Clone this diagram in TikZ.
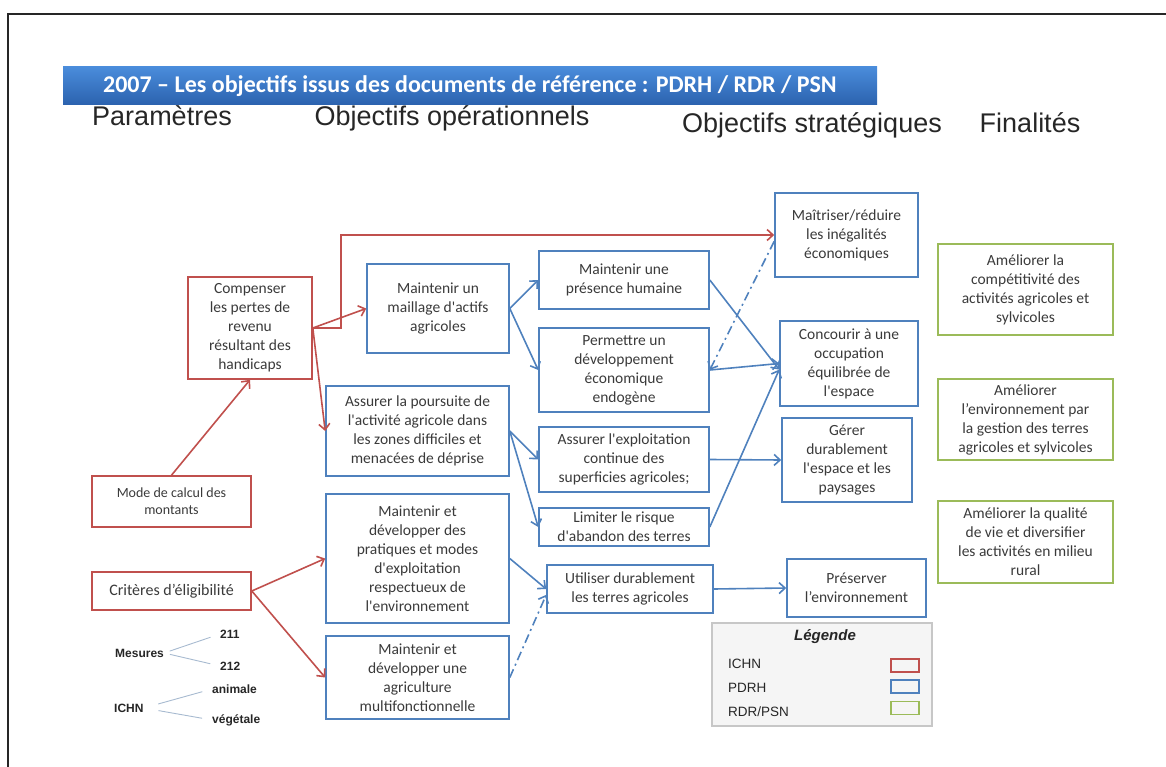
\documentclass[tikz,border=0pt]{standalone}
\usepackage{fontspec}
\setmainfont{Carlito}[Ligatures=TeXOff]
\newfontfamily\arialfont{Liberation Sans}
\usetikzlibrary{arrows.meta}

\definecolor{ichnred}{HTML}{C0504D}
\definecolor{pdrhblue}{HTML}{4F81BD}
\definecolor{rdrgreen}{HTML}{9BBB59}
\definecolor{textgray}{HTML}{3A3A3A}
\definecolor{treegray}{HTML}{A7BAD0}
\definecolor{titletop}{HTML}{4A8CDB}
\definecolor{titlebot}{HTML}{2B62AE}

\tikzset{
	box/.style={draw, line width=1.6pt, align=center, inner sep=0pt, text=textgray, font=\fontsize{15.5}{19}\selectfont},
	ichn/.style={box, draw=ichnred},
	pdrh/.style={box, draw=pdrhblue},
	rdr/.style={box, draw=rdrgreen},
	titlebar/.style={minimum width=814pt, minimum height=38pt, inner sep=0pt, top color=titletop, bottom color=titlebot, text=white, font=\bfseries\fontsize{24}{27}\selectfont},
	head/.style={anchor=base, inner sep=0pt, text=black!85, font=\arialfont\fontsize{27}{31}\selectfont},
	small/.style={anchor=west, inner sep=0pt, text=black!85, font=\arialfont\bfseries\fontsize{12}{14}\selectfont},
	legtext/.style={anchor=west, inner sep=0pt, text=black!85, font=\arialfont\fontsize{13.5}{16}\selectfont},
	swatch/.style={draw, line width=1.6pt, minimum width=28pt, minimum height=13pt, inner sep=0pt},
	linkred/.style={draw=ichnred, line width=1.6pt, -{Straight Barb[length=6pt,width=11pt]}},
	linkblue/.style={draw=pdrhblue, line width=1.6pt, -{Straight Barb[length=6pt,width=11pt]}},
	linkdash/.style={linkblue, dash pattern=on 9pt off 4pt on 2pt off 4pt},
	tree/.style={draw=treegray, line width=0.9pt},
}

\begin{document}
\begin{tikzpicture}[x=1pt, y=-1pt]
	\useasboundingbox (0,0) rectangle (1166,767);
	\draw[line width=2pt, black!85] (8,767) -- (8,14) -- (1166,14);

	\node[titlebar] (title) at (470,86) {2007 – Les objectifs issus des documents de référence : PDRH / RDR / PSN};

	\node[head] (hpar) at (162,126) {Paramètres};
	\node[head] (hope) at (452,126) {Objectifs opérationnels};
	\node[head] (hstr) at (812,133) {Objectifs stratégiques};
	\node[head] (hfin) at (1030,133) {Finalités};

	% Parametres
	\node[ichn, minimum width=124pt, minimum height=102pt] (comp) at (250,328) {Compenser\\les pertes de\\revenu\\résultant des\\handicaps};
	\node[ichn, minimum width=159pt, minimum height=51pt, font=\fontsize{14}{16.7}\selectfont] (mode) at (171.5,501.5) {Mode de calcul des\\montants};
	\node[ichn, minimum width=159pt, minimum height=38pt, font=\fontsize{16}{19}\selectfont] (crit) at (171.5,591) {Critères d’éligibilité};

	\node[small] (mes) at (115,653) {Mesures};
	\node[small] (n211) at (220,634) {211};
	\node[small] (n212) at (220,666) {212};
	\node[small] (ichnlbl) at (114,708) {ICHN};
	\node[small] (anim) at (212,689) {animale};
	\node[small] (veget) at (212,720) {végétale};

	% Objectifs operationnels
	\node[pdrh, minimum width=142pt, minimum height=89pt] (maill) at (438,308.5) {Maintenir un\\maillage d'actifs\\agricoles};
	\node[pdrh, minimum width=183pt, minimum height=90pt] (pours) at (417.5,431) {Assurer la poursuite de\\l'activité agricole dans\\les zones difficiles et\\menacées de déprise};
	\node[pdrh, minimum width=183pt, minimum height=129pt] (prat) at (417.5,558.5) {Maintenir et\\développer des\\pratiques et modes\\d'exploitation\\respectueux de\\l'environnement};
	\node[pdrh, minimum width=183pt, minimum height=83pt] (agri) at (417.5,677.5) {Maintenir et\\développer une\\agriculture\\multifonctionnelle};

	\node[pdrh, minimum width=170pt, minimum height=58pt] (pres) at (624,280) {Maintenir une\\présence humaine};
	\node[pdrh, minimum width=170pt, minimum height=84pt] (perm) at (624,370) {Permettre un\\développement\\économique\\endogène};
	\node[pdrh, minimum width=170pt, minimum height=65pt] (expl) at (624,459.5) {Assurer l'exploitation\\continue des\\superficies agricoles;};
	\node[pdrh, minimum width=170pt, minimum height=38pt] (limit) at (624,527) {Limiter le risque\\d'abandon des terres};
	\node[pdrh, minimum width=166pt, minimum height=48pt] (util) at (630,589) {Utiliser durablement\\les terres agricoles};

	% Objectifs strategiques
	\node[pdrh, minimum width=143pt, minimum height=84pt] (maitr) at (846.5,235) {Maîtriser/réduire\\les inégalités\\économiques};
	\node[pdrh, minimum width=138pt, minimum height=85pt] (conc) at (849,363.5) {Concourir à une\\occupation\\équilibrée de\\l'espace};
	\node[pdrh, minimum width=130pt, minimum height=84pt] (gerer) at (847,460) {Gérer\\durablement\\l'espace et les\\paysages};
	\node[pdrh, minimum width=139pt, minimum height=58pt] (preserv) at (856.5,588) {Préserver\\l’environnement};

	% Finalites
	\node[rdr, minimum width=175pt, minimum height=91pt] (compet) at (1025.5,289.5) {Améliorer la\\compétitivité des\\activités agricoles et\\sylvicoles};
	\node[rdr, minimum width=175pt, minimum height=81pt] (envir) at (1025.5,419.5) {Améliorer\\l’environnement par\\la gestion des terres\\agricoles et sylvicoles};
	\node[rdr, minimum width=175pt, minimum height=82pt] (qual) at (1025.5,542) {Améliorer la qualité\\de vie et diversifier\\les activités en milieu\\rural};

	% Legende
	\node[draw=black!22, fill=black!4, line width=1.2pt, minimum width=220pt, minimum height=103pt, inner sep=0pt] (leg) at (822,674.5) {};
	\node[inner sep=0pt, text=black!85, font=\arialfont\bfseries\itshape\fontsize{15}{18}\selectfont] (legtitle) at (825,637) {Légende};
	\node[legtext] (lichn) at (728,664) {ICHN};
	\node[legtext] (lpdrh) at (728,688) {PDRH};
	\node[legtext] (lrdr) at (728,712) {RDR/PSN};
	\node[swatch, draw=ichnred] (sichn) at (905,665.5) {};
	\node[swatch, draw=pdrhblue] (spdrh) at (905,686.5) {};
	\node[swatch, draw=rdrgreen] (srdr) at (905,708) {};

	% Draw the links
	\draw[tree, shorten <=6pt, shorten >=10pt] (mes.east) -- (n211.west);
	\draw[tree, shorten <=6pt, shorten >=10pt] (mes.east) -- (n212.west);
	\draw[tree, shorten <=15pt, shorten >=10pt] (ichnlbl.east) -- (anim.west);
	\draw[tree, shorten <=15pt, shorten >=10pt] (ichnlbl.east) -- (veget.west);

	\draw[linkred] (mode.north) -- (comp.south);
	\draw[linkred] (comp.east) -- (maill.west);
	\draw[linkred] (comp.east) -- (pours.west);
	\draw[linkred] (comp.east) -- ++(28,0) |- (maitr.west);
	\draw[linkred] (crit.east) -- (prat.west);
	\draw[linkred] (crit.east) -- (agri.west);

	\draw[linkblue] (maill.east) -- (pres.west);
	\draw[linkblue] (maill.east) -- (perm.west);
	\draw[linkblue] (pours.east) -- (expl.west);
	\draw[linkblue] (pours.east) -- (limit.west);
	\draw[linkblue] (pres.east) -- (conc.185);
	\draw[linkblue] (perm.east) -- (conc.west);
	\draw[linkblue] (limit.east) -- (conc.185);
	\draw[linkblue] (expl.east) -- (gerer.west);
	\draw[linkblue] (prat.east) -- (util.west);
	\draw[linkdash] (agri.east) -- (util.184);
	\draw[linkdash] (maitr.185) -- (perm.east);
	\draw[linkblue] (util.east) -- (preserv.west);
\end{tikzpicture}
\end{document}
